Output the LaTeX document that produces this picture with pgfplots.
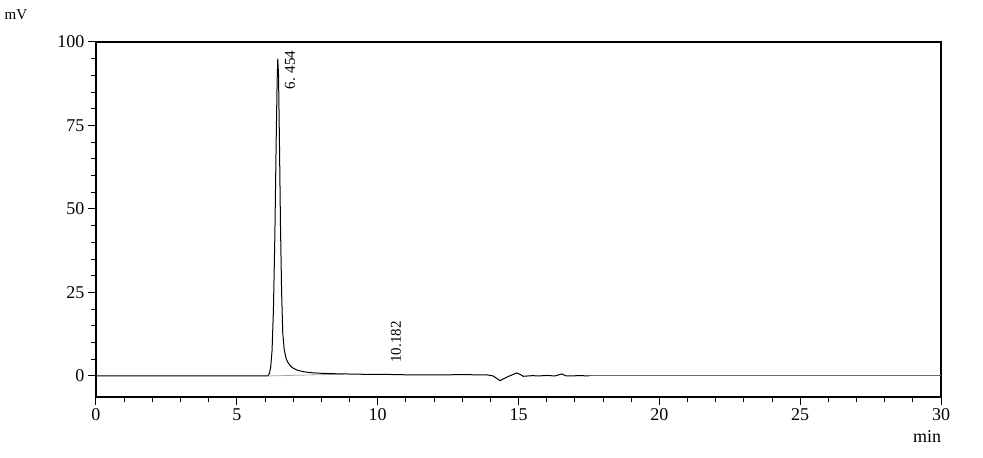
\documentclass[border=0pt]{standalone}
\usepackage{fontspec}
\setmainfont{Liberation Serif}
\usepackage{pgfplots}
\pgfplotsset{compat=1.18}
\begin{document}
\begin{tikzpicture}
\useasboundingbox (-96pt,-61pt) rectangle (887pt,397pt);
\begin{axis}[
  at={(0pt,0pt)}, anchor=south west,
  scale only axis, width=845pt, height=355pt,
  xmin=0, xmax=30, ymin=-6.3, ymax=100,
  xtick={0,5,...,30}, ytick={0,25,50,75,100},
  minor x tick num=4, minor y tick num=4,
  tick align=outside, xtick pos=bottom, ytick pos=left,
  major tick length=8pt, minor tick length=5pt,
  axis line style={line width=1.2pt},
  every tick/.style={line width=1pt, black},
  tick label style={font=\fontsize{18}{20}\selectfont},
  /pgf/number format/assume math mode=true,
  clip=true,
]
\addplot[gray!70, line width=0.8pt] coordinates {(6.13,0) (8.8,0.55)};
\addplot[black, line width=1pt] coordinates {
(0,0) (6.0,0) (6.10,0.05) (6.15,0.6) (6.20,2.5) (6.25,7.5) (6.30,20) (6.35,42)
(6.40,72) (6.43,88) (6.454,95) (6.48,90) (6.51,72) (6.55,45) (6.59,25)
(6.63,13) (6.68,8) (6.75,5.2) (6.83,3.8) (6.95,2.6) (7.12,1.8) (7.35,1.3)
(7.6,1.0) (8.0,0.8) (8.54,0.65) (9.5,0.5) (10.2,0.5) (10.4,0.45) (11,0.35)
(12,0.3) (13,0.4) (13.9,0.3) (14.1,0.0) (14.34,-1.4) (14.6,-0.3) (14.93,0.9)
(15.05,0.5) (15.17,-0.1) (15.5,0.1) (15.7,0.0) (16.0,0.15) (16.3,0.0)
(16.53,0.6) (16.7,0.0) (17.2,0.1) (17.5,0)
};
\addplot[gray!80!black, line width=1pt] coordinates {(17.5,0) (30,0)};
\node[rotate=90, font=\fontsize{15}{17}\selectfont] at (axis cs:6.89,91.6) {6. 454};
\node[rotate=90, font=\fontsize{15}{17}\selectfont] at (axis cs:10.65,10.2) {10.182};
\end{axis}
\node[font=\fontsize{15}{17}\selectfont] at (-80pt,382pt) {mV};
\node[font=\fontsize{18}{20}\selectfont] at (831pt,-40pt) {min};
\end{tikzpicture}
\end{document}
